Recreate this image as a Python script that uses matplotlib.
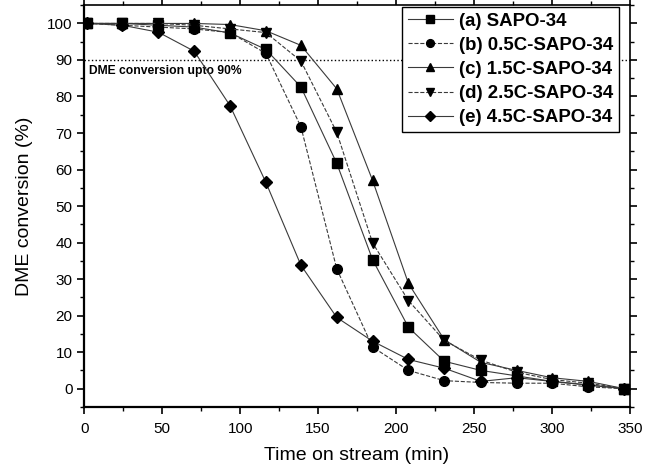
import matplotlib
matplotlib.use('Agg')
import matplotlib.pyplot as plt
from matplotlib.ticker import MultipleLocator

plt.rcParams['font.family'] = ['Liberation Sans', 'DejaVu Sans']

# time on stream (min)
time = [2, 24.5, 47.5, 70.5, 93.5, 116.5, 139, 162, 185, 208, 231, 254.5, 277.5, 300, 323.5, 346.5]

sapo34 = [100, 100, 99.5, 99, 97.4, 92.9, 82.6, 61.7, 35.3, 16.8, 7.5, 5, 3.5, 2, 1, 0]
c05 = [100, 99.5, 99, 98.5, 97.5, 91.8, 71.7, 32.8, 11.4, 5, 2.2, 1.7, 1.5, 1.5, 0.5, 0]
c15 = [100, 100, 100, 100, 99.7, 98, 94, 82.1, 57, 28.8, 13.4, 7.2, 5, 3, 2, 0]
c25 = [100, 100, 100, 99.5, 98.5, 97.5, 89.7, 70.2, 39.9, 24.1, 13.2, 7.8, 4.5, 2.5, 1.5, 0]
c45 = [100, 99.5, 97.6, 92.4, 77.5, 56.5, 33.8, 19.5, 13, 8, 5.6, 2, 3, 2, 1, 0]

labels = ['(a) SAPO-34', '(b) 0.5C-SAPO-34', '(c) 1.5C-SAPO-34',
          '(d) 2.5C-SAPO-34', '(e) 4.5C-SAPO-34']
series = [sapo34, c05, c15, c25, c45]
markers = ['s', 'o', '^', 'v', 'D']
styles = ['-', '--', '-', '--', '-']
msizes = [6.5, 7, 7.5, 7.5, 6.5]

fig = plt.figure(figsize=(6.56, 4.71), dpi=100)
ax = fig.add_axes([0.1285, 0.136, 0.8315, 0.853])

ax.axhline(90, color='black', linestyle=':', linewidth=1.0, zorder=1)
ax.text(3, 88.6, 'DME conversion upto 90%', fontsize=8.7, fontweight='bold',
        va='top', ha='left')

for y, lab, m, ls, ms in zip(series, labels, markers, styles, msizes):
    ax.plot(time, y, linestyle=ls, color='#3a3a3a', linewidth=0.8,
            marker=m, markersize=ms, markerfacecolor='black',
            markeredgecolor='black', label=lab, zorder=3)

ax.set_xlim(0, 350)
ax.set_ylim(-5, 105)
ax.xaxis.set_major_locator(MultipleLocator(50))
ax.xaxis.set_minor_locator(MultipleLocator(25))
ax.yaxis.set_major_locator(MultipleLocator(10))
ax.yaxis.set_minor_locator(MultipleLocator(5))
ax.set_yticks(range(0, 101, 10))

ax.tick_params(which='both', direction='out', top=True, right=True,
               labeltop=False, labelright=False)
ax.tick_params(which='major', length=5, width=1.2, labelsize=11)
ax.tick_params(which='minor', length=3, width=1)
ax.tick_params(axis='x', which='major', pad=6)

for side in ['left', 'bottom']:
    ax.spines[side].set_linewidth(1.6)
for side in ['top', 'right']:
    ax.spines[side].set_linewidth(1.2)

ax.set_xlabel('Time on stream (min)', fontsize=14, labelpad=8)
ax.set_ylabel('DME conversion (%)', fontsize=14, labelpad=10)

leg = ax.legend(loc='upper right', bbox_to_anchor=(0.98, 0.995), borderaxespad=0,
                prop={'weight': 'bold', 'size': 13.4}, frameon=True, fancybox=False,
                edgecolor='black', framealpha=1, handlelength=2.4, markerscale=0.8,
                labelspacing=0.38, borderpad=0.3, handletextpad=0.35)
leg.get_frame().set_linewidth(1.0)

fig.savefig('out.png', dpi=100)
